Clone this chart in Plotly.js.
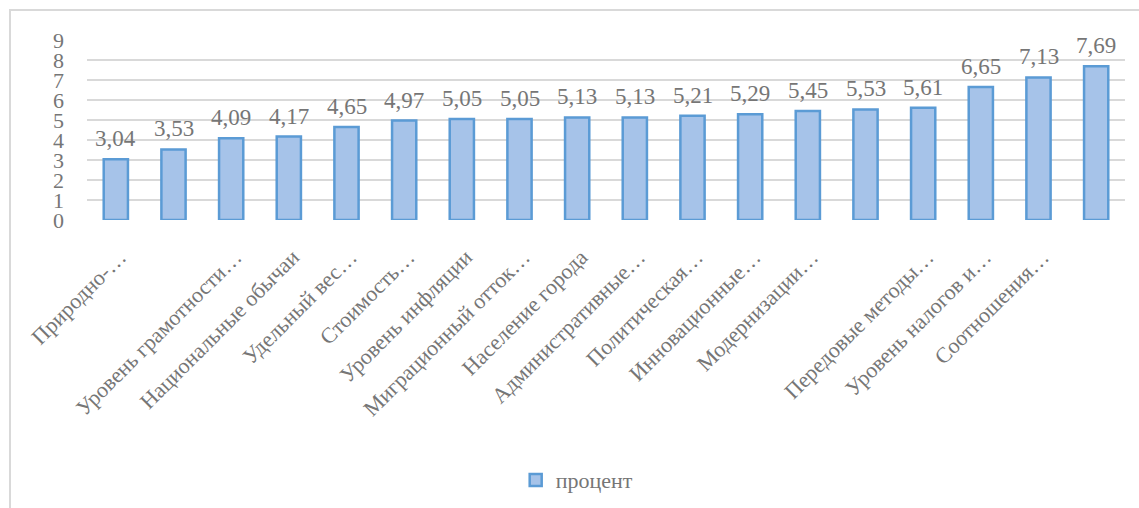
<!DOCTYPE html>
<html>
<head>
<meta charset="utf-8">
<script src="https://cdn.plot.ly/plotly-3.0.1.min.js"></script>
<style>
  html, body { margin: 0; padding: 0; background: #fff; }
  #wrap { position: relative; width: 1139px; height: 508px; overflow: hidden; }
  #chart { position: absolute; left: 0; top: 0; width: 1139px; height: 540px; }
  #frame { position: absolute; left: 9px; top: 9px; width: 1200px; height: 600px;
           border: 2px solid #d9d9d9; pointer-events: none; box-sizing: border-box; }
  #chart svg text { font-family: "Liberation Serif", "Times New Roman", serif !important; }
</style>
</head>
<body>
<div id="wrap">
  <div id="chart"></div>
  <div id="frame"></div>
</div>
<script>
// Category labels (blank where the source shows no label)
var categories = [
  "Природно-…",
  "",
  "Уровень грамотности…",
  "Национальные обычаи",
  "Удельный вес…",
  "Стоимость…",
  "Уровень инфляции",
  "Миграционный отток…",
  "Население города",
  "Административные…",
  "Политическая…",
  "Инновационные…",
  "Модернизации…",
  "",
  "Передовые методы…",
  "Уровень налогов и…",
  "Соотношения…",
  ""
];
var seriesName = "процент";
var values = [3.04, 3.53, 4.09, 4.17, 4.65, 4.97, 5.05, 5.05, 5.13, 5.13, 5.21, 5.29, 5.45, 5.53, 5.61, 6.65, 7.13, 7.69];
var yTicks = [0, 1, 2, 3, 4, 5, 6, 7, 8, 9];

var idx = categories.map(function (_, i) { return i; });
var bounds = categories.map(function (_, i) { return i - 0.5; }).concat([categories.length - 0.5]);

var gray = "#767676";
var font = "Liberation Serif, Times New Roman, serif";

var trace = {
  type: "bar",
  name: seriesName,
  x: idx,
  y: values,
  width: 0.42,
  marker: { color: "#a6c3e9", line: { color: "#5b9bd5", width: 2.5 } },
  hoverinfo: "none"
};

// value labels above the bars, built from the data arrays
var labels = values.map(function (v, i) {
  return {
    x: idx[i], y: v, xref: "x", yref: "y",
    text: v.toFixed(2).replace(".", ","),
    showarrow: false, yanchor: "bottom", yshift: 6,
    font: { family: font, size: 23, color: gray }
  };
});

var layout = {
  width: 1139,
  height: 540,
  margin: { l: 87, r: 14, t: 40, b: 320 },
  paper_bgcolor: "#ffffff",
  plot_bgcolor: "#ffffff",
  showlegend: true,
  font: { family: font, size: 22, color: gray },
  annotations: labels,
  xaxis: {
    range: [-0.5, categories.length - 0.5],
    tickmode: "array",
    tickvals: idx,
    ticktext: categories,
    tickangle: -45,
    showgrid: false,
    zeroline: false,
    showline: false,
    ticks: "",
    ticklabelshift: 4,
    ticklabelstandoff: 19,
    tickfont: { family: font, size: 22, color: gray },
    fixedrange: true
  },
  xaxis2: {
    overlaying: "x",
    range: [-0.5, categories.length - 0.5],
    tickmode: "array",
    tickvals: bounds,
    showticklabels: false,
    showgrid: true,
    gridcolor: "#d9d9d9",
    gridwidth: 1.5,
    zeroline: false,
    ticks: "",
    layer: "below traces"
  },
  yaxis: {
    range: [0, 9],
    tickmode: "array",
    tickvals: yTicks,
    ticktext: yTicks.map(String),
    showgrid: true,
    gridcolor: "#d9d9d9",
    gridwidth: 1.5,
    zeroline: false,
    showline: false,
    ticks: "",
    ticklabelstandoff: 22,
    tickfont: { family: font, size: 22, color: gray },
    fixedrange: true
  },
  legend: {
    orientation: "h",
    x: 0.413,
    xanchor: "left",
    y: -1.445,
    yanchor: "middle",
    font: { family: font, size: 22, color: gray },
    itemwidth: 30
  },
  bargap: 0.58
};

Plotly.newPlot("chart", [trace], layout, { displayModeBar: false, staticPlot: true });
</script>
</body>
</html>
